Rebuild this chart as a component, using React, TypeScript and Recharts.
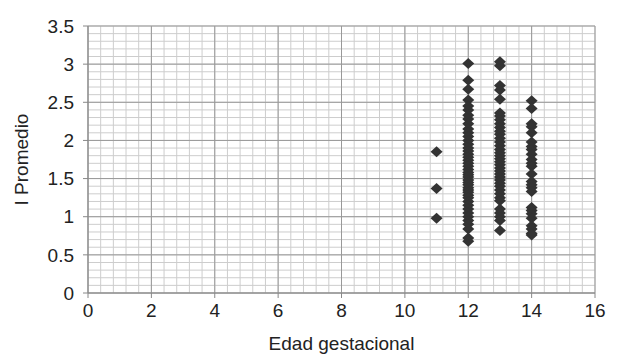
import { ScatterChart, Scatter, XAxis, YAxis, ReferenceLine } from "recharts";

// gestational age (weeks) -> I Promedio readings
const week11 = [1.85, 1.37, 0.98];
const week12 = [
  3.01, 2.79, 2.67, 2.53, 2.45, 2.4, 2.33, 2.28, 2.22, 2.15, 2.1, 2.05, 2.0, 1.95,
  1.9, 1.86, 1.82, 1.78, 1.74, 1.7, 1.66, 1.62, 1.58, 1.55, 1.52, 1.48, 1.45,
  1.42, 1.38, 1.35, 1.32, 1.28, 1.25, 1.2, 1.15, 1.1, 1.05, 1.0, 0.95, 0.9, 0.84,
  0.72, 0.68,
];
const week13 = [
  3.03, 2.98, 2.72, 2.66, 2.54, 2.36, 2.32, 2.27, 2.22, 2.17, 2.12, 2.08, 2.03,
  1.98, 1.93, 1.88, 1.84, 1.8, 1.76, 1.72, 1.68, 1.64, 1.6, 1.56, 1.52, 1.48,
  1.44, 1.4, 1.35, 1.3, 1.25, 1.21, 1.1, 1.05, 1.0, 0.95, 0.82,
];
const week14 = [
  2.52, 2.42, 2.22, 2.18, 2.1, 1.98, 1.92, 1.88, 1.82, 1.75, 1.7, 1.66, 1.56,
  1.46, 1.42, 1.38, 1.33, 1.12, 1.08, 1.04, 0.98, 0.88, 0.84, 0.78, 0.76,
];

const xTicks = [0, 2, 4, 6, 8, 10, 12, 14, 16];
const yTicks = [0, 0.5, 1, 1.5, 2, 2.5, 3, 3.5];

const columns: [number, number[]][] = [
  [11, week11],
  [12, week12],
  [13, week13],
  [14, week14],
];
const points = columns.flatMap(([x, ys]) => ys.map((y) => ({ x, y })));

// minor grid: every 0.4 on x, every 0.1 on y
const xMinor = Array.from({ length: 41 }, (_, i) => +(i * 0.4).toFixed(1));
const yMinor = Array.from({ length: 36 }, (_, i) => +(i * 0.1).toFixed(1));

const font = { fontFamily: "'Liberation Sans', Arial, sans-serif", fontSize: 19, fill: "#222" };

function Diamond(props: any) {
  const { cx, cy } = props;
  if (cx == null || cy == null) return null;
  return (
    <polygon
      points={`${cx - 6},${cy} ${cx},${cy - 5.5} ${cx + 6},${cy} ${cx},${cy + 5.5}`}
      fill="#333"
    />
  );
}

export default function App() {
  return (
    <div style={{ position: "absolute", left: 0, top: 0, background: "#fff" }}>
      <ScatterChart
        width={626}
        height={354}
        margin={{ top: 26, right: 31, bottom: 0, left: 0 }}
      >
        {xMinor.map((v) => (
          <ReferenceLine key={"xm" + v} x={v} stroke="#cdcdcd" />
        ))}
        {yMinor.map((v) => (
          <ReferenceLine key={"ym" + v} y={v} stroke="#cdcdcd" />
        ))}
        {xTicks.map((v) => (
          <ReferenceLine key={"xM" + v} x={v} stroke="#999" />
        ))}
        {yTicks.map((v) => (
          <ReferenceLine key={"yM" + v} y={v} stroke="#999" />
        ))}
        <XAxis
          type="number"
          dataKey="x"
          domain={[0, 16]}
          ticks={xTicks}
          height={61}
          tickSize={5}
          tickMargin={6}
          stroke="#888"
          tick={font}
          label={{ value: "Edad gestacional", position: "insideBottom", offset: 4, ...font }}
        />
        <YAxis
          type="number"
          dataKey="y"
          domain={[0, 3.5]}
          ticks={yTicks}
          width={88}
          tickSize={5}
          tickMargin={9}
          stroke="#888"
          tick={font}
          label={{
            value: "I Promedio",
            angle: -90,
            position: "insideLeft",
            offset: 17,
            dx: 4,
            style: { textAnchor: "middle" },
            ...font,
          }}
        />
        <Scatter data={points} shape={Diamond} isAnimationActive={false} />
      </ScatterChart>
    </div>
  );
}
